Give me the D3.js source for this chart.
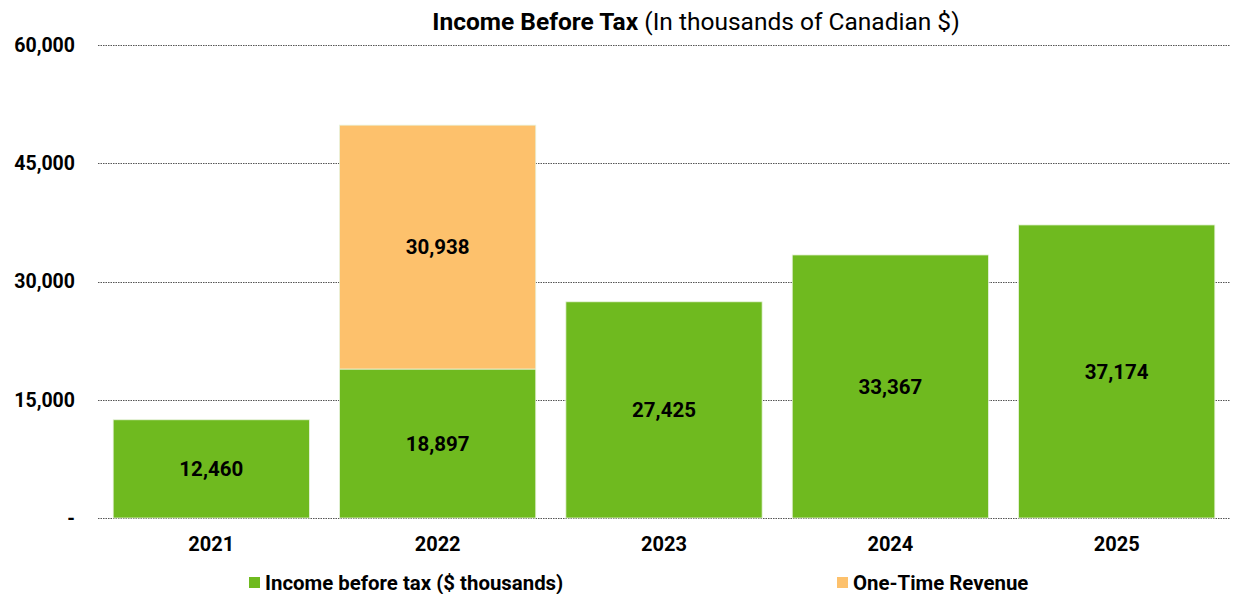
<!DOCTYPE html>
<html>
<head>
<meta charset="utf-8">
<script src="https://cdn.jsdelivr.net/npm/d3@7"></script>
<style>
  html, body { margin: 0; padding: 0; background: #fff; }
  svg { display: block; font-family: Roboto, "Liberation Sans", sans-serif; }
</style>
</head>
<body>
<svg id="chart" width="1235" height="594"></svg>
<script>
// Fiscal years shown on the x axis
const years = ["2021", "2022", "2023", "2024", "2025"];
// Income before tax, $ thousands
const incomeBeforeTax = [12460, 18897, 27425, 33367, 37174];
// One-time revenue stacked on top (2022 only)
const oneTimeRevenue = [0, 30938, 0, 0, 0];
// Y axis ticks
const yTicks = [0, 15000, 30000, 45000, 60000];
const seriesNames = ["Income before tax ($ thousands)", "One-Time Revenue"];
const seriesColors = ["#6fba1f", "#fdc16c"];

const svg = d3.select("#chart");
const margin = { left: 98, right: 5, top: 45, bottom: 76 };
const W = 1235, H = 594;

const x = d3.scaleBand()
  .domain(years)
  .range([margin.left, W - margin.right])
  .paddingInner(0.133)
  .paddingOuter(0.067);

const y = d3.scaleLinear()
  .domain([0, 60000])
  .range([H - margin.bottom, margin.top]);

// Title
const title = svg.append("text")
  .attr("x", 696).attr("y", 30)
  .attr("text-anchor", "middle")
  .attr("font-size", 24.5)
  .attr("fill", "#000");
title.append("tspan").attr("font-weight", "bold").text("Income Before Tax");
title.append("tspan").text(" (In thousands of Canadian $)");

// Gridlines
svg.append("g").selectAll("line")
  .data(yTicks)
  .join("line")
  .attr("x1", margin.left).attr("x2", W - margin.right)
  .attr("y1", d => Math.round(y(d)) + 0.5).attr("y2", d => Math.round(y(d)) + 0.5)
  .attr("stroke", "#555")
  .attr("stroke-width", 1)
  .attr("stroke-dasharray", "1.5,1");

// Y axis labels
const yAxis = d3.axisLeft(y)
  .tickValues(yTicks)
  .tickSize(0)
  .tickPadding(0)
  .tickFormat(d => d === 0 ? "-" : d3.format(",")(d));
const yg = svg.append("g")
  .attr("transform", `translate(${75},0)`)
  .call(yAxis);
yg.select(".domain").remove();
yg.selectAll("text")
  .attr("font-size", 19.5)
  .attr("font-weight", "bold")
  .attr("fill", "#000")
  .attr("font-family", "Roboto, sans-serif");

// Stacked data
const rows = years.map((yr, i) => ({ year: yr, income: incomeBeforeTax[i], oneTime: oneTimeRevenue[i] }));
const stack = d3.stack().keys(["income", "oneTime"]);
const layers = stack(rows);

const fmt = d3.format(",");
layers.forEach((layer, li) => {
  const g = svg.append("g");
  const segs = layer.filter(d => d[1] - d[0] > 0);
  g.selectAll("rect")
    .data(segs)
    .join("rect")
    .attr("x", d => x(d.data.year))
    .attr("width", x.bandwidth())
    .attr("y", d => y(d[1]))
    .attr("height", d => y(d[0]) - y(d[1]))
    .attr("fill", seriesColors[li])
    .attr("stroke", "#e8f3dc")
    .attr("stroke-width", 0.8);
  g.selectAll("text")
    .data(segs)
    .join("text")
    .attr("x", d => x(d.data.year) + x.bandwidth() / 2)
    .attr("y", d => (y(d[0]) + y(d[1])) / 2)
    .attr("dy", "0.36em")
    .attr("text-anchor", "middle")
    .attr("font-size", 20.5)
    .attr("font-weight", "bold")
    .attr("fill", "#000")
    .text(d => fmt(d[1] - d[0]));
});

// X axis labels
const xAxis = d3.axisBottom(x).tickSize(0).tickPadding(0);
const xg = svg.append("g")
  .attr("transform", `translate(0,${y(0) + 33})`)
  .call(xAxis);
xg.select(".domain").remove();
xg.selectAll("text")
  .attr("dy", 0)
  .attr("font-size", 20)
  .attr("font-weight", "bold")
  .attr("fill", "#000")
  .attr("font-family", "Roboto, sans-serif");

// Legend
const legendX = [249, 837];
const legend = svg.append("g");
seriesNames.forEach((name, i) => {
  legend.append("rect")
    .attr("x", legendX[i]).attr("y", 577)
    .attr("width", 11).attr("height", 11)
    .attr("fill", seriesColors[i]);
  legend.append("text")
    .attr("x", legendX[i] + 16).attr("y", 590)
    .attr("font-size", 20.4)
    .attr("font-weight", "bold")
    .attr("fill", "#000")
    .text(name);
});
</script>
</body>
</html>
